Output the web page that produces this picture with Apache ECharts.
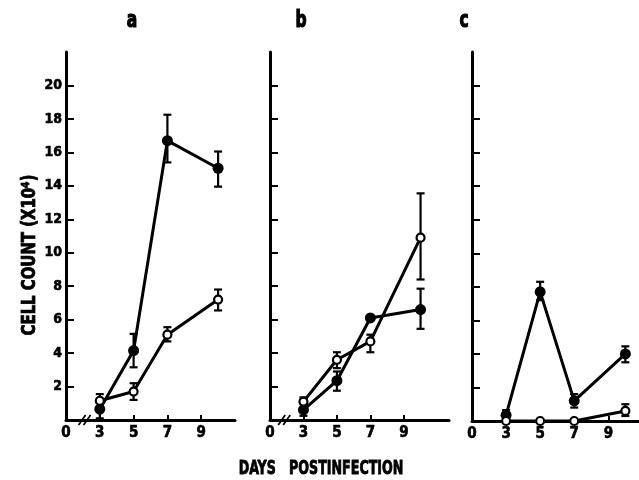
<!DOCTYPE html>
<html>
<head>
<meta charset="utf-8">
<script src="https://cdn.jsdelivr.net/npm/echarts@6/dist/echarts.min.js"></script>
<style>
  html, body { margin: 0; padding: 0; background: #fff; }
  #chart { width: 639px; height: 480px; }
</style>
</head>
<body>
<div id="chart"></div>
<script>
// days postinfection
var days = [3, 5, 7, 10]
var xTickValues = [3, 5, 7, 9]
var yTickValues = [2, 4, 6, 8, 10, 12, 14, 16, 18, 20]
var panelNames = ['a', 'b', 'c']

// panel a
var aFilled = [0.65, 4.15, 16.7, 15.05]
var aFilledLo = [0.1, 3.15, 15.4, 13.95]
var aFilledHi = [1.0, 5.15, 18.25, 16.05]
var aOpen = [1.15, 1.7, 5.1, 7.2]
var aOpenLo = [0.7, 1.2, 4.7, 6.55]
var aOpenHi = [1.55, 2.2, 5.55, 7.8]

// panel b
var bFilled = [0.6, 2.35, 6.1, 6.6]
var bFilledLo = [0.25, 1.75, null, 5.45]
var bFilledHi = [0.95, 2.9, null, 7.85]
var bOpen = [1.1, 3.6, 4.7, 10.9]
var bOpenLo = [0.7, 3.1, 4.05, 8.4]
var bOpenHi = [1.35, 4.05, 5.1, 13.55]

// panel c
var cFilled = [0.35, 7.7, 1.2, 4.0]
var cFilledLo = [0.05, 7.2, 0.8, 3.5]
var cFilledHi = [0.65, 8.3, 1.6, 4.45]
var cOpen = [0, 0, 0, 0.6]
var cOpenLo = [null, null, null, 0.3]
var cOpenHi = [null, null, null, 1.0]

// x position of the "//" axis break marks (only a and b)
var breakAt = [2.1, 1.85, null]

var FONT = 'DejaVu Sans Condensed'

function pairs(vals) {
  return days.map(function (d, i) { return [d, vals[i]] })
}

function triples(lo, hi) {
  var out = []
  days.forEach(function (d, i) {
    if (lo[i] != null) out.push([d, lo[i], hi[i]])
  })
  return out
}

function renderError(params, api) {
  var x = api.value(0)
  var top = api.coord([x, api.value(2)])
  var bot = api.coord([x, api.value(1)])
  var w = 4
  var st = { stroke: '#000', lineWidth: 2.2 }
  return {
    type: 'group',
    children: [
      { type: 'line', shape: { x1: top[0], y1: top[1], x2: bot[0], y2: bot[1] }, style: st },
      { type: 'line', shape: { x1: top[0] - w, y1: top[1], x2: top[0] + w, y2: top[1] }, style: st },
      { type: 'line', shape: { x1: bot[0] - w, y1: bot[1], x2: bot[0] + w, y2: bot[1] }, style: st }
    ]
  }
}

function renderBreak(params, api) {
  var p = api.coord([api.value(0), 0])
  var st = { stroke: '#000', lineWidth: 1.8 }
  return {
    type: 'group',
    children: [-2.5, 2.5].map(function (off) {
      return { type: 'line', shape: { x1: p[0] + off - 3.5, y1: p[1] + 5, x2: p[0] + off + 3.5, y2: p[1] - 5 }, style: st }
    })
  }
}

var panels = [
  { filled: aFilled, fLo: aFilledLo, fHi: aFilledHi, open: aOpen, oLo: aOpenLo, oHi: aOpenHi },
  { filled: bFilled, fLo: bFilledLo, fHi: bFilledHi, open: bOpen, oLo: bOpenLo, oHi: bOpenHi },
  { filled: cFilled, fLo: cFilledLo, fHi: cFilledHi, open: cOpen, oLo: cOpenLo, oHi: cOpenHi }
]

var grids = [
  { left: 66, right: 404, top: 52, bottom: 60 },
  { left: 270, right: 190, top: 52, bottom: 60 },
  { left: 472, right: 0, top: 52, bottom: 59 }
]
var xMax = [11, 11.7, 10.8]

var labelStyle = {
  color: '#000', fontFamily: FONT, fontWeight: 'bold',
  textBorderColor: '#000', textBorderWidth: 0.6
}

var xAxes = [], yAxes = [], series = []
panels.forEach(function (p, i) {
  xAxes.push({
    gridIndex: i, type: 'value', min: 1, max: xMax[i],
    splitLine: { show: false },
    axisLine: { show: true, onZero: false, lineStyle: { color: '#000', width: 3 } },
    axisTick: { show: true, inside: true, length: 5, customValues: xTickValues, lineStyle: { color: '#000', width: 2 } },
    axisLabel: Object.assign({
      customValues: [1].concat(xTickValues),
      formatter: function (v) { return v === 1 ? '0' : String(v) },
      fontSize: 15, margin: 6
    }, labelStyle)
  })
  yAxes.push({
    gridIndex: i, type: 'value', min: 0, max: 22,
    splitLine: { show: false },
    axisLine: { show: true, lineStyle: { color: '#000', width: 3 } },
    axisTick: { show: true, inside: true, length: 8, customValues: yTickValues, lineStyle: { color: '#000', width: 2 } },
    axisLabel: Object.assign({
      show: i === 0, customValues: yTickValues, fontSize: 14, margin: 4
    }, labelStyle)
  })
  series.push({
    type: 'custom', xAxisIndex: i, yAxisIndex: i, renderItem: renderError,
    data: triples(p.fLo, p.fHi), z: 1, clip: false
  })
  series.push({
    type: 'custom', xAxisIndex: i, yAxisIndex: i, renderItem: renderError,
    data: triples(p.oLo, p.oHi), z: 1, clip: false
  })
  series.push({
    type: 'line', xAxisIndex: i, yAxisIndex: i, data: pairs(p.filled),
    symbol: 'circle', symbolSize: 11, z: 3,
    lineStyle: { color: '#000', width: 3 },
    itemStyle: { color: '#000' }
  })
  series.push({
    type: 'line', xAxisIndex: i, yAxisIndex: i, data: pairs(p.open),
    symbol: 'circle', symbolSize: 8, z: 4,
    lineStyle: { color: '#000', width: 3 },
    itemStyle: { color: '#fff', borderColor: '#000', borderWidth: 2.2 }
  })
  if (breakAt[i] != null) {
    series.push({
      type: 'custom', xAxisIndex: i, yAxisIndex: i, renderItem: renderBreak,
      data: [[breakAt[i], 0]], z: 5, clip: false
    })
  }
})

var titleX = [132, 301, 464]
var graphic = panelNames.map(function (n, i) {
  return {
    type: 'text', x: titleX[i], y: 21, scaleX: 0.75,
    style: {
      text: n, fill: '#000', stroke: '#000', lineWidth: 1.2,
      font: 'bold 23px "' + FONT + '"', textAlign: 'center', textVerticalAlign: 'middle'
    }
  }
})
graphic.push({
  type: 'text', x: 30, y: 255, rotation: Math.PI / 2, scaleX: 0.87,
  style: {
    text: 'CELL COUNT (X10⁴)', fill: '#000', stroke: '#000', lineWidth: 0.8,
    font: 'bold 19px "' + FONT + '"', textAlign: 'center', textVerticalAlign: 'middle'
  }
})
graphic.push({
  type: 'text', x: 321, y: 469, scaleX: 0.74,
  style: {
    text: 'DAYS   POSTINFECTION', fill: '#000', stroke: '#000', lineWidth: 0.8,
    font: 'bold 19px "' + FONT + '"', textAlign: 'center', textVerticalAlign: 'middle'
  }
})

var chart = echarts.init(document.getElementById('chart'))
chart.setOption({
  animation: false,
  backgroundColor: '#fff',
  grid: grids,
  xAxis: xAxes,
  yAxis: yAxes,
  series: series,
  graphic: graphic
})
</script>
</body>
</html>
